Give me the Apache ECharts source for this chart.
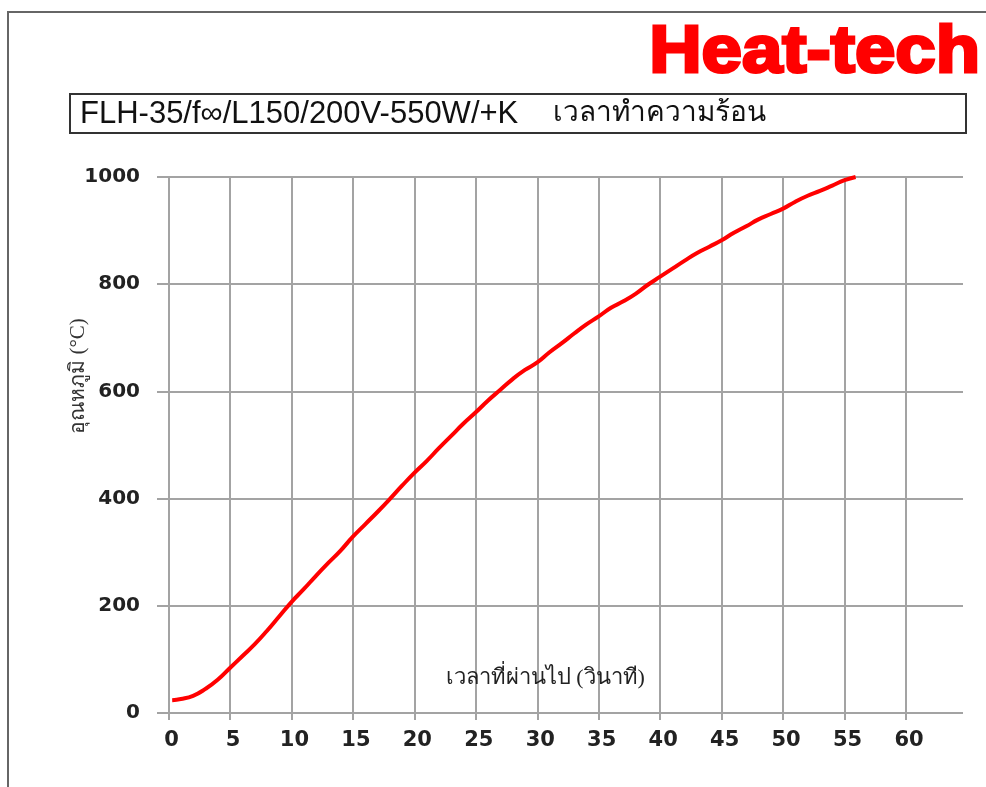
<!DOCTYPE html>
<html>
<head>
<meta charset="utf-8">
<script src="https://cdn.jsdelivr.net/npm/echarts@6/dist/echarts.min.js"></script>
<style>
html,body{margin:0;padding:0;background:#fff;}
#chart{width:986px;height:787px;}
</style>
</head>
<body>
<div id="chart"></div>
<script>
// ---- data ----
const timeSec = [0.3, 1, 2, 3, 4, 5, 6, 7, 8, 9, 10, 11, 12, 13, 14, 15, 16, 17, 18, 19, 20,
  21, 22, 23, 24, 25, 26, 27, 28, 29, 30, 31, 32, 33, 34, 35, 36, 37, 38, 39, 40,
  41, 42, 43, 44, 45, 46, 47, 48, 49, 50, 51, 52, 53, 54, 55, 55.9];
const tempC = [24, 26, 32, 45, 62, 84, 106, 128, 153, 180, 207, 231, 256, 280, 303, 329, 352, 375, 399, 424, 448,
  470, 494, 517, 540, 561, 583, 603, 623, 640, 654, 673, 690, 708, 725, 740, 756, 768, 782, 799, 814,
  829, 844, 858, 870, 882, 896, 908, 921, 931, 941, 954, 965, 974, 984, 994, 1000];
const xTicks = { min: 0, max: 60, step: 5 };
const yTicks = { min: 0, max: 1000, step: 200 };
const titleModel = 'FLH-35/f\u221E/L150/200V-550W/+K';
const titleThai = 'เวลาทำความร้อน';
const brandText = 'Heat-tech';
const xName = 'เวลาที่ผ่านไป (วินาที)';
const yName = 'อุณหภูมิ (°C)';

const points = timeSec.map((t, i) => [t, tempC[i]]);
const gridColor = '#a3a3a3';
const labelFont = { fontFamily: 'DejaVu Sans', fontSize: 20, fontWeight: 'bold', color: '#222' };

const chart = echarts.init(document.getElementById('chart'), null, { renderer: 'canvas' });
chart.setOption({
  animation: false,
  backgroundColor: '#ffffff',
  grid: [
    { left: 157, right: 23, top: 177, bottom: 74 },
    { left: 168.5, right: 80, top: 177, bottom: 74 }
  ],
  xAxis: [
    { gridIndex: 0, type: 'value', min: 0, max: 1, show: false },
    {
      gridIndex: 1, type: 'value', min: xTicks.min, max: xTicks.max, interval: xTicks.step,
      axisLine: { show: false },
      axisTick: { show: true, length: 7, lineStyle: { color: gridColor, width: 2 } },
      axisLabel: Object.assign({ margin: 17 }, labelFont, { fontSize: 21, padding: [0, 0, 0, 6] }),
      splitLine: { show: true, lineStyle: { color: gridColor, width: 2 } },
      name: xName, nameLocation: 'middle', nameGap: -46,
      nameTextStyle: { fontFamily: 'Liberation Sans Narrow', fontSize: 22, color: '#222', padding: [0, 0, 0, 16] }
    }
  ],
  yAxis: [
    {
      gridIndex: 0, type: 'value', min: yTicks.min, max: yTicks.max, interval: yTicks.step,
      axisLine: { show: false }, axisTick: { show: false },
      axisLabel: Object.assign({ margin: 17, formatter: (v) => String(v) }, labelFont),
      splitLine: { show: true, lineStyle: { color: gridColor, width: 2 } }
    },
    { gridIndex: 1, type: 'value', min: yTicks.min, max: yTicks.max, show: false }
  ],
  series: [{
    type: 'line', xAxisIndex: 1, yAxisIndex: 1, data: points,
    smooth: true, showSymbol: false,
    lineStyle: { color: '#ff0000', width: 4 }
  }],
  graphic: [
    { type: 'rect', shape: { x: 8, y: 12, width: 1100, height: 900 },
      style: { fill: 'none', stroke: '#666', lineWidth: 2 }, silent: true },
    { type: 'rect', shape: { x: 70, y: 94, width: 896, height: 39 },
      style: { fill: '#fff', stroke: '#333', lineWidth: 2 }, silent: true },
    { type: 'text', x: 80, y: 114,
      style: { text: titleModel, font: '31px "Liberation Sans"', fill: '#111', textVerticalAlign: 'middle' } },
    { type: 'text', x: 553, y: 113,
      style: { text: titleThai, font: '28px "Liberation Sans"', fill: '#111', textVerticalAlign: 'middle' } },
    { type: 'text', x: 980, y: 54, scaleX: 1.1, scaleY: 1,
      style: { text: brandText, font: 'bold 66px "Liberation Sans"', fill: '#ff0000',
        stroke: '#ff0000', lineWidth: 3, textAlign: 'right', textVerticalAlign: 'middle' } },
    { type: 'text', x: 78, y: 376, rotation: Math.PI / 2,
      style: { text: yName, font: '21px "Liberation Serif"', fill: '#333',
        textAlign: 'center', textVerticalAlign: 'middle' } }
  ]
});
</script>
</body>
</html>
